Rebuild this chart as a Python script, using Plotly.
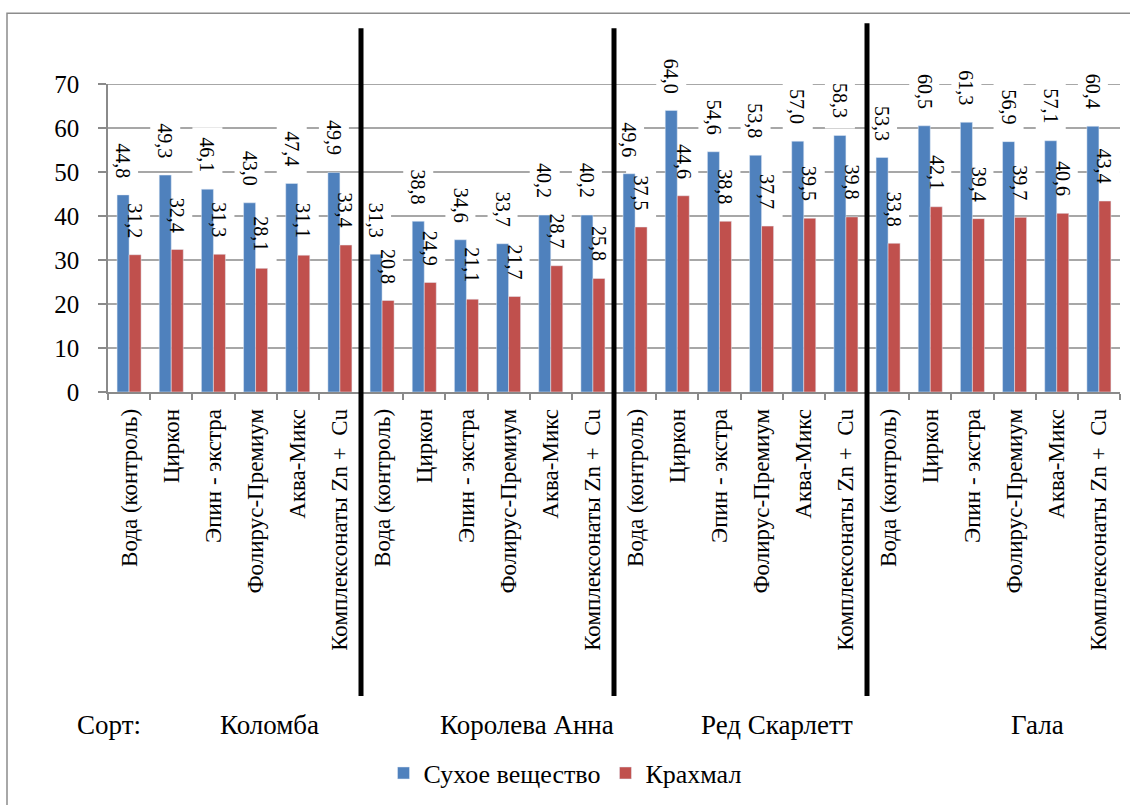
import plotly.graph_objects as go

treatments = ["Вода (контроль)", "Циркон", "Эпин - экстра", "Фолирус-Премиум",
              "Аква-Микс", "Комплексонаты Zn +  Cu"]
varieties = ["Коломба", "Королева Анна", "Ред Скарлетт", "Гала"]
series_names = ["Сухое вещество", "Крахмал"]
dry_matter = [44.8, 49.3, 46.1, 43.0, 47.4, 49.9,
              31.3, 38.8, 34.6, 33.7, 40.2, 40.2,
              49.6, 64.0, 54.6, 53.8, 57.0, 58.3,
              53.3, 60.5, 61.3, 56.9, 57.1, 60.4]
starch = [31.2, 32.4, 31.3, 28.1, 31.1, 33.4,
          20.8, 24.9, 21.1, 21.7, 28.7, 25.8,
          37.5, 44.6, 38.8, 37.7, 39.5, 39.8,
          33.8, 42.1, 39.4, 39.7, 40.6, 43.4]
y_ticks = [0, 10, 20, 30, 40, 50, 60, 70]

FONT = "'Liberation Serif', 'Times New Roman', Tinos, 'DejaVu Serif', serif"
BLUE = "#4F81BD"
RED = "#C0504D"
GRID = "#8A8A8A"
BARGAP = 0.43

W, H = 1130, 805
ML, MR, MT, MB = 108, 10, 84, 412
PLOT_W = W - ML - MR
PLOT_H = H - MT - MB

labels = treatments * len(varieties)
xs = list(range(len(labels)))
half = (1 - BARGAP) / 4.0
y_range = [y_ticks[0], y_ticks[-1]]
x_range = [-0.5, len(labels) - 0.5]
ux = (x_range[1] - x_range[0]) / PLOT_W   # data units per pixel
uy = (y_range[1] - y_range[0]) / PLOT_H

fig = go.Figure()
fig.add_trace(go.Bar(x=xs, y=dry_matter, name=series_names[0], marker_color=BLUE))
fig.add_trace(go.Bar(x=xs, y=starch, name=series_names[1], marker_color=RED))

annotations = []
shapes = []

# gridlines drawn as shapes beneath the bars so label boxes can mask them
for t in y_ticks[1:]:
    shapes.append(dict(type="line", layer="below", xref="paper", yref="y",
                       x0=0, x1=1, y0=t, y1=t, line=dict(color=GRID, width=1.5)))

for series, off in ((dry_matter, -half), (starch, half)):
    for i, v in zip(xs, series):
        annotations.append(dict(
            x=i + off, y=v, xref="x", yref="y", text=f"{v:.1f}".replace(".", ","),
            textangle=90, showarrow=False, xanchor="center", yanchor="bottom",
            yshift=15, font=dict(family=FONT, size=20, color="black")))
        shapes.append(dict(
            type="rect", layer="below", xref="x", yref="y",
            x0=i + off - 15 * ux, x1=i + off + 15 * ux,
            y0=v + 7 * uy, y1=v + 62 * uy, fillcolor="white",
            line=dict(width=0, color="white")))

# group separators
n = len(treatments)
for k in range(1, len(varieties)):
    shapes.append(dict(type="line", layer="above", xref="x", yref="paper",
                       x0=k * n - 0.5, x1=k * n - 0.5, y0=-0.987,
                       y1=1.197 if k == 3 else 1.181,
                       line=dict(color="black", width=5)))

# outer frame
shapes.append(dict(type="rect", layer="above", xref="paper", yref="paper",
                   x0=-0.0998, x1=1.1, y0=-1.5, y1=1.2298,
                   line=dict(color="#8C8C8C", width=1.5), fillcolor="rgba(0,0,0,0)"))

# variety captions
annotations.append(dict(x=0.001, y=-1.081, xref="paper", yref="paper", text="Сорт:",
                        showarrow=False, xanchor="center", yanchor="middle",
                        font=dict(family=FONT, size=27, color="black")))
var_x = [0.160, 0.414, 0.661, 0.918]
for vx, name in zip(var_x, varieties):
    annotations.append(dict(x=vx, y=-1.081, xref="paper", yref="paper", text=name,
                            showarrow=False, xanchor="center", yanchor="middle",
                            font=dict(family=FONT, size=27, color="black")))

fig.update_layout(
    width=W, height=H,
    margin=dict(l=ML, r=MR, t=MT, b=MB),
    paper_bgcolor="white", plot_bgcolor="white",
    barmode="group", bargap=BARGAP, bargroupgap=0,
    font=dict(family=FONT, color="black"),
    showlegend=True,
    legend=dict(orientation="h", x=0.4516, xanchor="center", y=-1.23, yanchor="middle",
                font=dict(family=FONT, size=26, color="black"),
                bgcolor="rgba(0,0,0,0)", itemwidth=30),
    annotations=annotations,
    shapes=shapes,
)
fig.update_xaxes(
    range=x_range, tickmode="array", tickvals=xs, ticktext=labels,
    tickangle=-90, ticks="", showgrid=False, zeroline=False,
    showline=True, linecolor=GRID, linewidth=1.5,
    tickfont=dict(family=FONT, size=23, color="black"),
    ticklabelstandoff=6,
    minor=dict(tickmode="linear", tick0=-0.5, dtick=1, ticks="outside",
               ticklen=6, tickcolor=GRID, tickwidth=1.5, showgrid=False),
)
fig.update_yaxes(
    range=y_range, tickmode="array", tickvals=y_ticks,
    showgrid=False, zeroline=False,
    showline=True, linecolor=GRID, linewidth=1.5,
    ticks="outside", ticklen=8, tickcolor=GRID, tickwidth=1.5,
    tickfont=dict(family=FONT, size=25, color="black"),
    ticklabelstandoff=14,
)

fig.write_html("out.html")
